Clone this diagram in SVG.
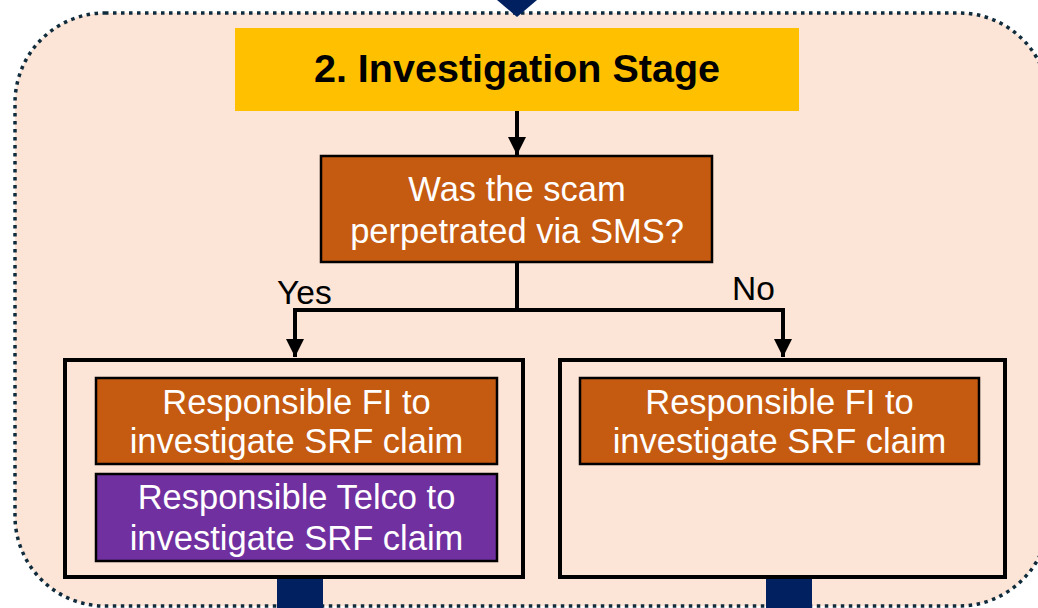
<svg xmlns="http://www.w3.org/2000/svg" width="1038" height="608" viewBox="0 0 1038 608">
<defs>
<style>
.t{font-family:"Liberation Sans",Arial,sans-serif;font-size:34.5px;fill:#ffffff;text-anchor:middle}
.lbl{font-family:"Liberation Sans",Arial,sans-serif;font-size:33.5px;fill:#000000}
.orange{fill:#c55a11;stroke:#000;stroke-width:2.5}
.purple{fill:#7030a0;stroke:#000;stroke-width:2.5}
.cont{fill:none;stroke:#000;stroke-width:4}
.ln{fill:none;stroke:#000;stroke-width:4}
.nav{fill:#002060}
</style>
<marker id="ah" viewBox="0 0 10 10" refX="10" refY="5" markerWidth="4.6" markerHeight="4.6" markerUnits="strokeWidth" orient="auto">
<path d="M0,0 L10,5 L0,10 Z" fill="#000"/>
</marker>
</defs>
<rect width="1038" height="608" fill="#ffffff"/>
<g id="stage-container">
<rect x="15" y="13" width="1034" height="593" rx="90" ry="90" fill="#fce4d6" stroke="#0f2b3c" stroke-width="3.5" stroke-dasharray="3.5 4.5"/>
</g>
<g id="incoming">
<polygon class="nav" points="497,0 537,0 517,17"/>
</g>
<g id="title">
<rect x="235" y="28" width="564" height="83" fill="#ffc000"/>
<text x="517" y="82" font-family="Liberation Sans,Arial,sans-serif" font-size="39.5" font-weight="bold" text-anchor="middle" fill="#000">2. Investigation Stage</text>
</g>
<g id="decision">
<rect class="orange" x="321" y="156" width="391" height="106"/>
<text class="t" x="517" y="201">Was the scam</text>
<text class="t" x="517" y="243">perpetrated via SMS?</text>
</g>
<g id="connectors">
<line class="ln" x1="517" y1="111" x2="517" y2="155" marker-end="url(#ah)"/>
<polyline class="ln" points="517,262 517,310"/>
<polyline class="ln" points="517,310 295,310 295,357" marker-end="url(#ah)"/>
<polyline class="ln" points="517,310 783,310 783,357" marker-end="url(#ah)"/>
<text class="lbl" x="277" y="304">Yes</text>
<text class="lbl" x="732" y="300">No</text>
</g>
<g id="yes-branch">
<rect class="cont" x="65" y="360" width="458" height="217"/>
<rect class="orange" x="96" y="378" width="401" height="86"/>
<text class="t" x="296.500" y="414">Responsible FI to</text>
<text class="t" x="296.500" y="453">investigate SRF claim</text>
<rect class="purple" x="96" y="474" width="401" height="87"/>
<text class="t" x="296.500" y="509">Responsible Telco to</text>
<text class="t" x="296.500" y="550">investigate SRF claim</text>
</g>
<g id="no-branch">
<rect class="cont" x="560" y="360" width="445" height="217"/>
<rect class="orange" x="580" y="378" width="399" height="86"/>
<text class="t" x="779.500" y="414">Responsible FI to</text>
<text class="t" x="779.500" y="453">investigate SRF claim</text>
</g>
<g id="outgoing">
<rect class="nav" x="277" y="579" width="46" height="29"/>
<rect class="nav" x="766" y="579" width="46" height="29"/>
</g>
</svg>
